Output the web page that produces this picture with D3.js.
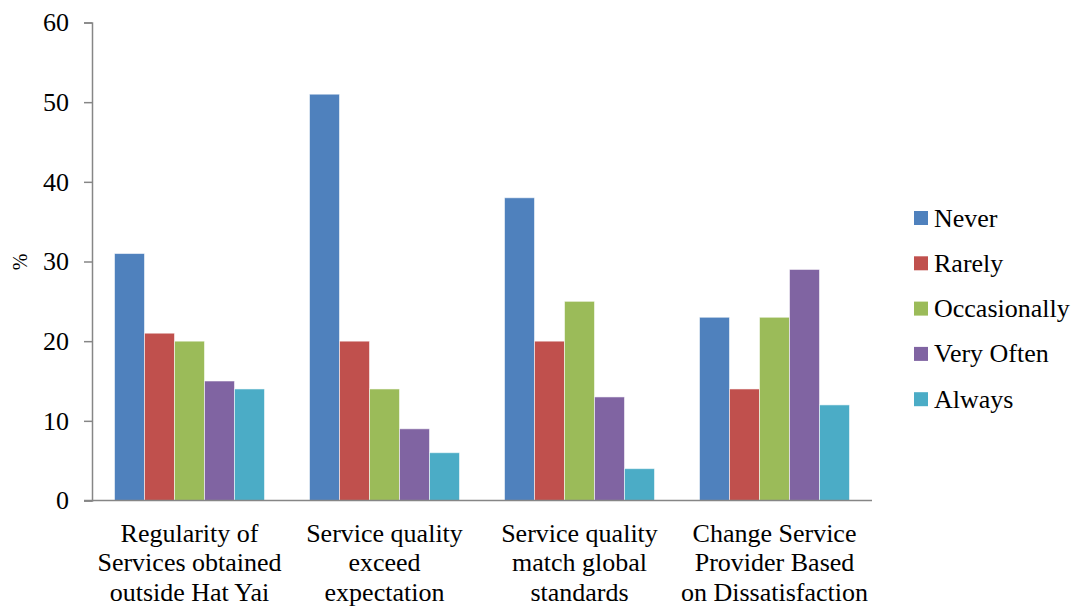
<!DOCTYPE html>
<html>
<head>
<meta charset="utf-8">
<script src="https://cdn.jsdelivr.net/npm/d3@7"></script>
</head>
<body style="margin:0">
<svg id="chart" width="1074" height="607"></svg>
<script>
const FONT_FAMILY = "Tinos";

// Survey questions (x categories), each label split into lines
const categories = [
  ["Regularity of", "Services obtained", "outside Hat Yai"],
  ["Service quality", "exceed", "expectation"],
  ["Service quality", "match global", "standards"],
  ["Change Service", "Provider Based", "on Dissatisfaction"]
];

// Response frequencies
const seriesNames = ["Never", "Rarely", "Occasionally", "Very Often", "Always"];
const seriesColors = ["#4F81BD", "#C0504D", "#9BBB59", "#8064A2", "#4BACC6"];

// Percentage of respondents, one array per response option (in category order)
const never        = [31, 51, 38, 23];
const rarely       = [21, 20, 20, 14];
const occasionally = [20, 14, 25, 23];
const veryOften    = [15,  9, 13, 29];
const always       = [14,  6,  4, 12];
const seriesValues = [never, rarely, occasionally, veryOften, always];

const yTicks = [0, 10, 20, 30, 40, 50, 60];

const svg = d3.select("#chart");
const margin = { left: 92, right: 202, top: 22.5, bottom: 106.5 };
const W = 1074, H = 607;
const plotW = W - margin.left - margin.right;
const plotH = H - margin.top - margin.bottom;

const g = svg.append("g").attr("transform", `translate(${margin.left},${margin.top})`);

const x0 = d3.scaleBand()
  .domain(d3.range(categories.length))
  .range([0, plotW])
  .paddingInner(0)
  .paddingOuter(0);

// bars fill 150/195 of each category slot, centred
const groupFrac = 150 / 195;
const x1 = d3.scaleBand()
  .domain(d3.range(seriesNames.length))
  .range([x0.bandwidth() * (1 - groupFrac) / 2, x0.bandwidth() * (1 + groupFrac) / 2])
  .padding(0);

const y = d3.scaleLinear().domain([0, 60]).range([plotH, 0]);

// Bars
const groups = g.selectAll("g.cat")
  .data(categories.map((c, i) => i))
  .join("g")
  .attr("class", "cat")
  .attr("transform", i => `translate(${x0(i)},0)`);

groups.selectAll("rect")
  .data(i => seriesValues.map((vals, s) => ({ s, v: vals[i] })))
  .join("rect")
  .attr("x", d => x1(d.s))
  .attr("width", x1.bandwidth())
  .attr("y", d => y(d.v))
  .attr("height", d => plotH - y(d.v))
  .attr("fill", d => seriesColors[d.s])
  .attr("stroke", "rgba(255,255,255,0.55)")
  .attr("stroke-width", 1);

// Y axis
const yAxis = d3.axisLeft(y).tickValues(yTicks).tickSize(8).tickPadding(15).tickFormat(d3.format("d"));
const yG = g.append("g").call(yAxis);
yG.attr("font-family", FONT_FAMILY).attr("font-size", 26);
yG.select(".domain").attr("stroke", "#868686").attr("stroke-width", 1.5);
yG.selectAll(".tick line").attr("stroke", "#868686").attr("stroke-width", 1.5);
yG.selectAll(".tick text")
  .style("font", `26px ${FONT_FAMILY}`)
  .attr("fill", "#000");

// X axis line (baseline, extends to the left tick length)
g.append("line")
  .attr("x1", -8).attr("x2", plotW)
  .attr("y1", plotH).attr("y2", plotH)
  .attr("stroke", "#868686").attr("stroke-width", 1.5);

// Category labels
const lab = g.selectAll("text.cat-label")
  .data(categories)
  .join("text")
  .attr("class", "cat-label")
  .attr("text-anchor", "middle")
  .style("font", `26px ${FONT_FAMILY}`)
  .attr("transform", (d, i) => `translate(${x0(i) + x0.bandwidth() / 2},${plotH + 41})`);
lab.selectAll("tspan")
  .data(d => d)
  .join("tspan")
  .attr("x", 0)
  .attr("y", (d, j) => j * 29.5)
  .text(d => d);

// Y axis title
svg.append("text")
  .attr("transform", "translate(27,262) rotate(-90)")
  .attr("text-anchor", "middle")
  .style("font", `20px ${FONT_FAMILY}`)
  .text("%");

// Legend
const legend = svg.append("g").attr("transform", "translate(914,218)");
const items = legend.selectAll("g")
  .data(seriesNames)
  .join("g")
  .attr("transform", (d, i) => `translate(0,${i * 45.3})`);
items.append("rect")
  .attr("x", 0).attr("y", -7)
  .attr("width", 14).attr("height", 14)
  .attr("fill", (d, i) => seriesColors[i]);
items.append("text")
  .attr("x", 20).attr("y", 8.5)
  .style("font", `26px ${FONT_FAMILY}`)
  .text(d => d);
</script>
</body>
</html>
